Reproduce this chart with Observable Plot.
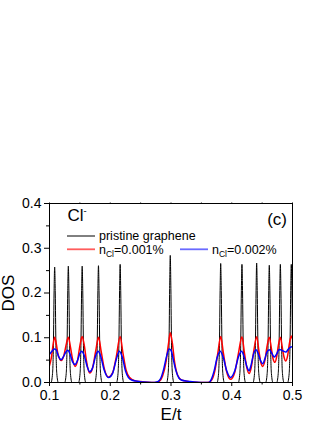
<!DOCTYPE html>
<html>
<head>
<meta charset="utf-8">
<script src="https://cdn.jsdelivr.net/npm/d3@7"></script>
<script src="https://cdn.jsdelivr.net/npm/@observablehq/plot@0.6"></script>
<style>
  html, body { margin: 0; padding: 0; background: #fff; }
  #chart svg { display: block; }
</style>
</head>
<body>
<div id="chart"></div>
<script>
// ---- data ----
const xTicks = [0.1, 0.2, 0.3, 0.4, 0.5];
const xMinor = [0.15, 0.25, 0.35, 0.45];
const yTicks = [0.0, 0.1, 0.2, 0.3, 0.4];
const yMinor = [0.05, 0.15, 0.25, 0.35];

const seriesLabels = ["pristine graphene", "0.001%", "0.002%"];

const pristineE = [
  0.100,0.1025,0.105,0.1065,0.1075,0.1085,0.1095,0.1105,0.112,0.1145,
  0.125,0.1275,0.129,0.130,0.131,0.132,0.133,0.1345,0.137,
  0.1478,0.1503,0.1518,0.1528,0.1538,0.1548,0.1558,0.1573,0.1598,
  0.1746,0.1771,0.1786,0.1796,0.1806,0.1816,0.1826,0.1841,0.1866,
  0.2103,0.2128,0.2143,0.2153,0.2163,0.2173,0.2183,0.2198,0.2223,
  0.2928,0.2953,0.2968,0.2978,0.2988,0.2998,0.3008,0.3023,0.3048,
  0.3758,0.3783,0.3798,0.3808,0.3818,0.3828,0.3838,0.3853,0.3878,
  0.4108,0.4133,0.4148,0.4158,0.4168,0.4178,0.4188,0.4203,0.4228,
  0.435,0.4375,0.439,0.440,0.441,0.442,0.443,0.4445,0.447,
  0.4558,0.4583,0.4598,0.4608,0.4618,0.4628,0.4638,0.4653,0.4678,
  0.474,0.4765,0.478,0.479,0.480,0.481,0.482,0.4835,0.486,
  0.492,0.4945,0.496,0.497,0.498,0.499,0.500
];
const pristineDOS = [
  0,0,0.02,0.09,0.2,0.258,0.2,0.09,0.02,0,
  0,0.02,0.09,0.2,0.26,0.2,0.09,0.02,0,
  0,0.02,0.09,0.2,0.26,0.2,0.09,0.02,0,
  0,0.02,0.09,0.2,0.261,0.2,0.09,0.02,0,
  0,0.02,0.09,0.2,0.264,0.2,0.09,0.02,0,
  0,0.02,0.09,0.21,0.284,0.21,0.09,0.02,0,
  0,0.02,0.09,0.2,0.266,0.2,0.09,0.02,0,
  0,0.02,0.09,0.2,0.264,0.2,0.09,0.02,0,
  0,0.02,0.09,0.2,0.267,0.2,0.09,0.02,0,
  0,0.02,0.09,0.2,0.262,0.2,0.09,0.02,0,
  0,0.02,0.09,0.2,0.264,0.2,0.09,0.02,0,
  0,0.02,0.09,0.2,0.264,0.2,0.09
];

const n001E = [
  0.100,0.103,0.106,0.1085,0.111,0.114,0.1195,0.124,0.128,0.131,0.134,0.138,0.142,0.146,0.150,0.1538,
  0.157,0.161,0.166,0.171,0.176,0.1806,0.185,0.190,0.197,0.204,0.210,0.2163,0.221,0.226,0.232,0.240,
  0.250,0.262,0.272,0.280,0.286,0.292,0.296,0.2988,0.302,0.306,0.311,0.317,0.326,0.336,0.346,0.360,
  0.366,0.372,0.377,0.3818,0.386,0.391,0.398,0.405,0.411,0.4168,0.421,0.425,0.4285,0.432,0.436,0.441,
  0.445,0.448,0.451,0.455,0.458,0.4618,0.465,0.468,0.471,0.474,0.477,0.480,0.483,0.486,0.489,0.492,
  0.495,0.498,0.500
];
const n001DOS = [
  0.038,0.055,0.085,0.101,0.088,0.063,0.049,0.062,0.088,0.101,0.083,0.052,0.036,0.048,0.082,0.103,
  0.085,0.047,0.021,0.033,0.070,0.101,0.070,0.032,0.012,0.022,0.058,0.103,0.065,0.028,0.011,0.004,
  0.002,0.0005,0,0.002,0.014,0.048,0.088,0.111,0.090,0.045,0.016,0.006,0.003,0.001,0,0,
  0.004,0.025,0.065,0.103,0.068,0.027,0.007,0.023,0.065,0.102,0.065,0.032,0.020,0.033,0.068,0.102,
  0.068,0.044,0.036,0.052,0.080,0.101,0.078,0.053,0.045,0.058,0.085,0.101,0.080,0.057,0.048,0.060,
  0.088,0.104,0.097
];

const n002E = [
  0.100,0.104,0.108,0.111,0.115,0.119,0.123,0.127,0.130,0.134,0.138,0.142,0.146,0.150,0.153,0.157,
  0.162,0.166,0.171,0.176,0.180,0.184,0.190,0.197,0.204,0.210,0.215,0.220,0.225,0.230,0.236,0.245,
  0.255,0.268,0.278,0.283,0.288,0.293,0.297,0.300,0.304,0.308,0.313,0.318,0.328,0.338,0.350,0.362,
  0.366,0.371,0.376,0.381,0.386,0.392,0.398,0.405,0.411,0.416,0.421,0.425,0.4285,0.432,0.436,0.440,
  0.444,0.448,0.451,0.455,0.458,0.462,0.466,0.470,0.474,0.478,0.481,0.485,0.489,0.493,0.497,0.500
];
const n002DOS = [
  0.063,0.070,0.075,0.073,0.058,0.051,0.058,0.068,0.072,0.063,0.046,0.040,0.049,0.065,0.070,0.061,
  0.036,0.024,0.033,0.060,0.070,0.060,0.028,0.011,0.021,0.052,0.070,0.056,0.026,0.011,0.005,0.003,
  0.001,0,0.002,0.009,0.030,0.060,0.075,0.072,0.050,0.027,0.010,0.005,0.003,0.001,0,0,
  0.006,0.026,0.056,0.070,0.056,0.025,0.011,0.026,0.057,0.070,0.055,0.035,0.026,0.040,0.064,0.073,
  0.062,0.047,0.042,0.055,0.068,0.073,0.065,0.057,0.064,0.074,0.073,0.070,0.068,0.074,0.079,0.080
];

// ---- tables built from the arrays ----
const pristine = pristineE.map((e, i) => ({E: e, DOS: pristineDOS[i]}));
const n001 = n001E.map((e, i) => ({E: e, DOS: n001DOS[i]}));
const n002 = n002E.map((e, i) => ({E: e, DOS: n002DOS[i]}));

const FONT = "Arial, 'Liberation Sans', Helvetica, sans-serif";

// legend + annotations inside the frame
function annotations(index, scales, values, dims) {
  const L = dims.marginLeft, T = dims.marginTop;
  const g = d3.create("svg:g").attr("font-family", FONT).attr("fill", "black").attr("text-anchor", "start");
  // Cl-
  const cl = g.append("text").attr("x", L + 18.5).attr("y", T + 18).attr("font-size", 17);
  cl.append("tspan").text("Cl");
  cl.append("tspan").attr("font-size", 9.5).attr("dy", -7.5).text("-");
  // (c)
  g.append("text").attr("x", dims.width - dims.marginRight - 5).attr("y", T + 21.5)
    .attr("text-anchor", "end").attr("font-size", 17).text("(c)");
  // legend row 1
  g.append("line").attr("x1", L + 18).attr("x2", L + 46).attr("y1", T + 33).attr("y2", T + 33)
    .attr("stroke", "black").attr("stroke-width", 1);
  g.append("text").attr("x", L + 50).attr("y", T + 37).attr("font-size", 12.5).text(seriesLabels[0]);
  // legend row 2
  const rows = [
    {x: L + 18, color: "#ff5c5c", label: seriesLabels[1]},
    {x: L + 131, color: "#6a6aff", label: seriesLabels[2]}
  ];
  for (const r of rows) {
    g.append("line").attr("x1", r.x).attr("x2", r.x + 28).attr("y1", T + 46.3).attr("y2", T + 46.3)
      .attr("stroke", r.color).attr("stroke-width", 1.8);
    const t = g.append("text").attr("x", r.x + 32).attr("y", T + 51).attr("font-size", 12.5);
    t.append("tspan").text("n");
    t.append("tspan").attr("font-size", 8.5).attr("dy", 2.5).text("Cl");
    t.append("tspan").attr("dy", -2.5).text("=" + r.label);
  }
  return g.node();
}

const chart = Plot.plot({
  width: 327,
  height: 423,
  marginLeft: 49,
  marginRight: 35,
  marginTop: 203,
  marginBottom: 41,
  style: {fontFamily: FONT, fontSize: "14px", background: "white", color: "black"},
  x: {domain: [0.1, 0.5]},
  y: {domain: [0, 0.4]},
  marks: [
    Plot.line(pristine, {x: "E", y: "DOS", stroke: "black", strokeWidth: 1, curve: "monotone-x", clip: true}),
    Plot.line(n001, {x: "E", y: "DOS", stroke: "#ff0000", strokeWidth: 1.5, curve: "monotone-x", clip: true}),
    Plot.line(n002, {x: "E", y: "DOS", stroke: "#0000ff", strokeWidth: 1.5, curve: "monotone-x", clip: true}),
    Plot.frame({stroke: "black", strokeWidth: 1}),
    Plot.axisX({ticks: xTicks, tickFormat: d3.format(".1f"), tickSize: 4, tickPadding: 4, label: null, fontSize: 14}),
    Plot.axisX({ticks: xMinor, tickSize: 2.5, tickFormat: () => "", label: null}),
    Plot.axisX({anchor: "top", ticks: xTicks.concat(xMinor), tickSize: 1.5, tickFormat: () => "", label: null}),
    Plot.axisY({ticks: yTicks, tickFormat: d3.format(".1f"), tickSize: 5, tickPadding: 3, label: null, fontSize: 14}),
    Plot.axisY({ticks: yMinor, tickSize: 3, tickFormat: () => "", label: null}),
    Plot.text(["E/t"], {frameAnchor: "bottom", dy: 32, fontSize: 17, lineAnchor: "middle"}),
    Plot.text(["DOS"], {frameAnchor: "left", dx: -41, rotate: -90, fontSize: 17, lineAnchor: "middle", textAnchor: "middle"}),
    annotations
  ]
});
document.getElementById("chart").appendChild(chart);
</script>
</body>
</html>
